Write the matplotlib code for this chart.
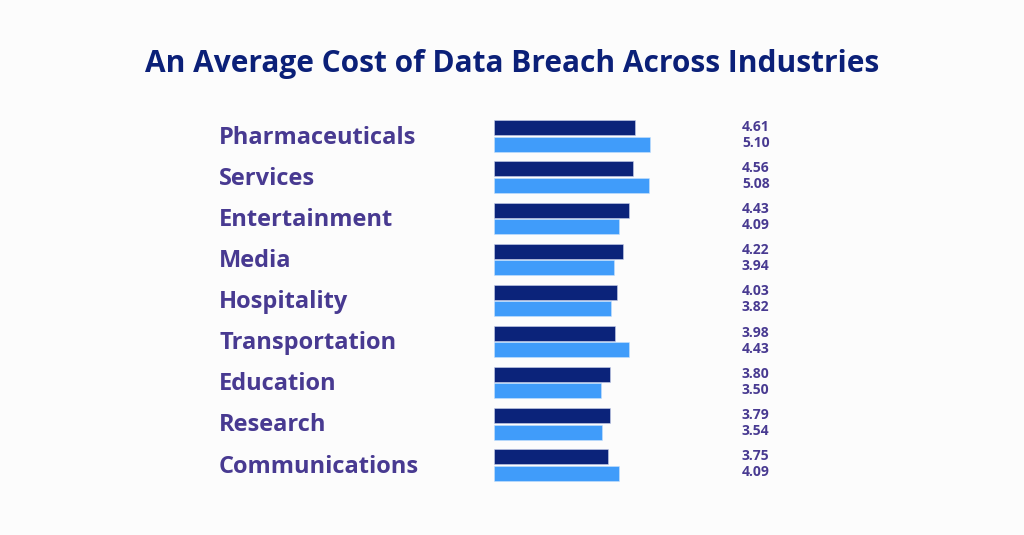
import matplotlib.pyplot as plt
from matplotlib.transforms import blended_transform_factory

industries = ["Pharmaceuticals", "Services", "Entertainment", "Media", "Hospitality",
              "Transportation", "Education", "Research", "Communications"]
cost_2022 = [4.61, 4.56, 4.43, 4.22, 4.03, 3.98, 3.80, 3.79, 3.75]
cost_2023 = [5.10, 5.08, 4.09, 3.94, 3.82, 4.43, 3.50, 3.54, 4.09]

bg = "#FCFCFC"
navy = "#0B237A"
blue = "#409CFA"
purple = "#483A91"
font = "Open Sans"

fig = plt.figure(figsize=(10.24, 5.35), dpi=100, facecolor=bg)

# axes placed so that x=0 is at the bars' left edge (494 px)
W, H = 1024, 535
left_px, right_px = 494, 800
top_px, bot_px = 115.5, 485.5
ax = fig.add_axes([left_px / W, 1 - bot_px / H, (right_px - left_px) / W, (bot_px - top_px) / H])
ax.set_facecolor(bg)
ax.set_xlim(0, (right_px - left_px) / 30.5)
ax.set_ylim(len(industries) - 0.5, -0.5)
ax.axis("off")

y = list(range(len(industries)))
h = 0.365
ax.barh([v - 0.2 for v in y], cost_2022, height=h, color=navy, edgecolor="#c8d0ec", linewidth=0.4)
ax.barh([v + 0.2 for v in y], cost_2023, height=h, color=blue, edgecolor="#c8e2fd", linewidth=0.4)

tr = blended_transform_factory(fig.transFigure, ax.transData)
for i, name in enumerate(industries):
    fig.text(219 / W, i + 0.04, name, transform=tr, ha="left", va="center",
             fontsize=17, fontweight="bold", color=purple, family=font)
    fig.text(742 / W, i - 0.22, f"{cost_2022[i]:.2f}", transform=tr, ha="left", va="center",
             fontsize=10, fontweight="bold", color=purple, family=font)
    fig.text(742 / W, i + 0.17, f"{cost_2023[i]:.2f}", transform=tr, ha="left", va="center",
             fontsize=10, fontweight="bold", color=purple, family=font)

fig.text(0.5, 1 - 64 / H, "An Average Cost of Data Breach Across Industries", ha="center", va="center",
         fontsize=21.5, fontweight="bold", color="#0B2078", family=font)

fig.savefig("out.png", dpi=100, facecolor=bg)
